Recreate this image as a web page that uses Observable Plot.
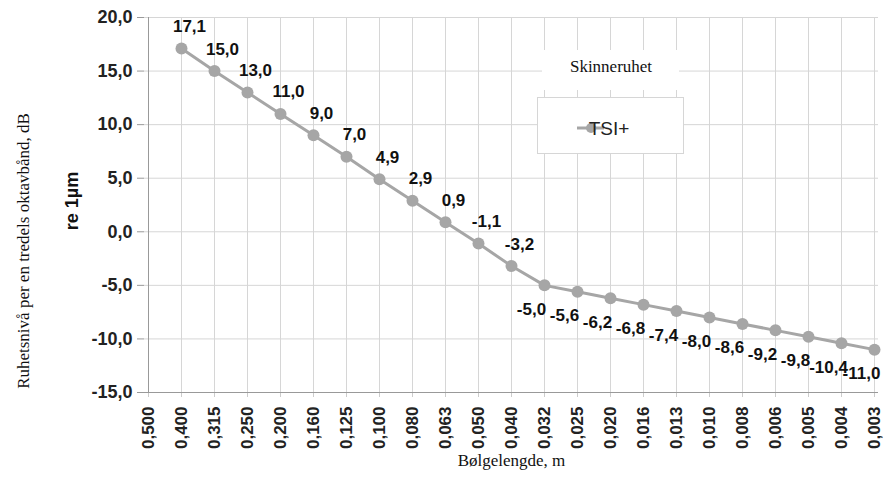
<!DOCTYPE html>
<html>
<head>
<meta charset="utf-8">
<script src="https://cdn.jsdelivr.net/npm/d3@7"></script>
<script src="https://cdn.jsdelivr.net/npm/@observablehq/plot@0.6"></script>
<style>
  html, body { margin: 0; padding: 0; background: #fff; }
  #chart { width: 893px; height: 490px; }
</style>
</head>
<body>
<div id="chart"></div>
<script>
const categories = ["0,500","0,400","0,315","0,250","0,200","0,160","0,125","0,100","0,080","0,063","0,050","0,040","0,032","0,025","0,020","0,016","0,013","0,010","0,008","0,006","0,005","0,004","0,003"];
const seriesCategories = categories.slice(1);
const tsiValues = [17.1, 15.0, 13.0, 11.0, 9.0, 7.0, 4.9, 2.9, 0.9, -1.1, -3.2, -5.0, -5.6, -6.2, -6.8, -7.4, -8.0, -8.6, -9.2, -9.8, -10.4, -11.0];
const yTicks = [-15, -10, -5, 0, 5, 10, 15, 20];
const seriesName = "TSI+";
const legendTitle = "Skinneruhet";
const xTitle = "Bølgelengde, m";
const yTitle1 = "re 1µm";
const yTitle2 = "Ruhetsnivå per en tredels oktavbånd, dB";

const data = seriesCategories.map((c, i) => ({cat: c, v: tsiValues[i]}));
const fmt = d => d.toFixed(1).replace(".", ",");
const above = data.filter(d => d.v > -4);
const below = data.filter(d => d.v <= -4);

const sans = "'Liberation Sans', Arial, sans-serif";
const serif = "'Liberation Serif', 'Times New Roman', serif";
const grey = "#a6a6a6";

const chart = Plot.plot({
  width: 893,
  height: 490,
  marginLeft: 144,
  marginRight: 15,
  marginTop: 17,
  marginBottom: 98,
  style: {fontFamily: sans, background: "#fff", overflow: "visible"},
  x: {type: "point", domain: categories, padding: 0, label: null},
  y: {domain: [-15, 20], label: null},
  marks: [
    Plot.gridX(categories, {stroke: "#d6d6d6", strokeOpacity: 1}),
    Plot.gridY(yTicks, {stroke: "#d6d6d6", strokeOpacity: 1}),
    Plot.axisY(yTicks, {tickSize: 7, tickPadding: 5, tickFormat: fmt, fontSize: 18, fontWeight: "bold", fill: "#222", stroke: "#999"}),
    Plot.axisX(categories, {tickSize: 5, tickPadding: 9, tickRotate: -90, fontSize: 17, fontWeight: "bold", fill: "#222", stroke: "#ccc"}),
    Plot.ruleX([categories[0]], {stroke: "#999"}),
    Plot.ruleY([-15], {stroke: "#999"}),
    Plot.line(data, {x: "cat", y: "v", stroke: grey, strokeWidth: 3}),
    Plot.dot(data, {x: "cat", y: "v", r: 6, fill: grey, stroke: null}),
    Plot.text(above, {x: "cat", y: "v", text: d => fmt(d.v), dx: 8, dy: -22, fontSize: 17, fontWeight: "bold", fill: "#111"}),
    Plot.text(below, {x: "cat", y: "v", text: d => fmt(d.v), dx: -13, dy: 24, fontSize: 17, fontWeight: "bold", fill: "#111"}),
    Plot.text([xTitle], {frameAnchor: "bottom", dy: 73, text: d => d, fontFamily: serif, fontSize: 17, fill: "#111"}),
    Plot.text([yTitle1], {frameAnchor: "left", textAnchor: "middle", dx: -72, dy: -4, rotate: -90, text: d => d, fontSize: 18, fontWeight: "bold", fill: "#111"}),
    Plot.text([yTitle2], {frameAnchor: "left", textAnchor: "middle", dx: -121, dy: 46, rotate: -90, text: d => d, fontFamily: serif, fontSize: 17, fill: "#111"})
  ]
});

document.getElementById("chart").appendChild(chart);

// Legend (layout only)
const svg = d3.select(chart);
const lg = svg.append("g");
lg.append("rect").attr("x", 542).attr("y", 50).attr("width", 137).attr("height", 40).attr("fill", "#fff");
lg.append("text").attr("x", 611).attr("y", 72).attr("text-anchor", "middle")
  .attr("font-family", serif).attr("font-size", 17).attr("fill", "#111").text(legendTitle);
lg.append("rect").attr("x", 537.5).attr("y", 97.5).attr("width", 146).attr("height", 56)
  .attr("fill", "#fff").attr("stroke", "#d6d6d6");
lg.append("line").attr("x1", 577).attr("x2", 604).attr("y1", 128).attr("y2", 128)
  .attr("stroke", grey).attr("stroke-width", 3);
lg.append("circle").attr("cx", 591).attr("cy", 128).attr("r", 5).attr("fill", grey);
lg.append("text").attr("x", 609).attr("y", 135).attr("font-family", sans).attr("font-size", 19)
  .attr("fill", "#222").text(seriesName);
</script>
</body>
</html>
